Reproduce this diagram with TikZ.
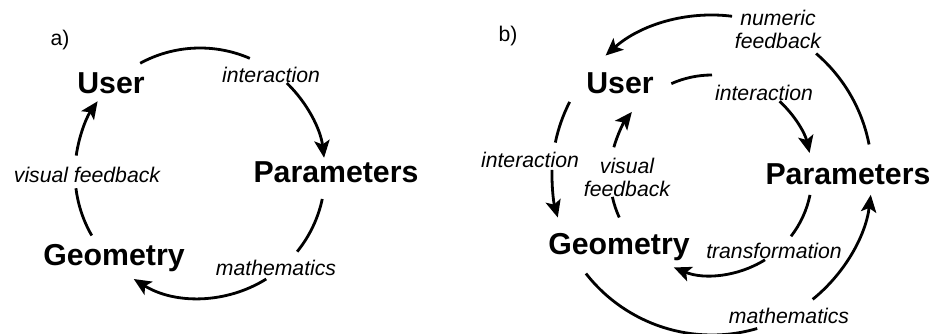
\documentclass[tikz,border=0pt]{standalone}
\usepackage{fontspec}
\setmainfont{Liberation Sans}
\usetikzlibrary{arrows.meta}

\begin{document}
\begin{tikzpicture}[x=0.75pt,y=0.75pt,
  state/.style={font=\fontsize{22.7}{27}\selectfont\bfseries,anchor=base,inner sep=0pt},
  lbl/.style={font=\fontsize{15.9}{17.25}\selectfont\itshape,anchor=base,inner sep=0pt},
  tag/.style={font=\fontsize{15.9}{18}\selectfont,inner sep=0pt},
  flow/.style={line width=2.1pt},
  arr/.style={flow,-{Stealth[length=13pt,width=11.5pt,inset=3pt]}}]
\useasboundingbox (0,0) rectangle (935,333);

% a)
\coordinate (ca) at (200,160);
\node[tag] (tagA) at (60,293) {a)};
\node[state] (userA) at (111,240) {User};
\node[state] (paramA) at (336,151) {Parameters};
\node[state] (geomA) at (114,68) {Geometry};
\node[lbl] (interA) at (271,251) {interaction};
\node[lbl] (visA) at (87,151) {visual feedback};
\node[lbl] (mathA) at (276,58) {mathematics};

\draw[flow] ([shift={(118.6:125)}]ca) arc[start angle=118.6,end angle=66.5,radius=125];
\draw[arr] ([shift={(46:125)}]ca) arc[start angle=46,end angle=7,radius=125];
\draw[flow] ([shift={(-12:125)}]ca) arc[start angle=-12,end angle=-39,radius=125];
\draw[arr] ([shift={(-58:125)}]ca) arc[start angle=-58,end angle=-122,radius=125];
\draw[flow] ([shift={(210:125)}]ca) arc[start angle=210,end angle=187,radius=125];
\draw[arr] ([shift={(172:125)}]ca) arc[start angle=172,end angle=145,radius=125];

% b)
\coordinate (cb) at (712,158);
\node[tag] (tagB) at (508,297) {b)};
\node[state] (userB) at (620,240) {User};
\node[state] (paramB) at (848,149) {Parameters};
\node[state] (geomB) at (619,79) {Geometry};
\node[lbl,anchor=center,align=center] (numB) at (778,304) {numeric\\feedback};
\node[lbl] (interB) at (764,233) {interaction};
\node[lbl] (interL) at (530,166) {interaction};
\node[lbl,anchor=center,align=center] (visB) at (627,156) {visual\\feedback};
\node[lbl] (transB) at (774,75) {transformation};
\node[lbl] (mathB) at (789,10) {mathematics};

% inner ring
\draw[flow] ([shift={(114:100)}]cb) arc[start angle=114,end angle=90,radius=100];
\draw[arr] ([shift={(47.5:100)}]cb) arc[start angle=47.5,end angle=12.7,radius=100];
\draw[flow] ([shift={(-11.5:100)}]cb) arc[start angle=-11.5,end angle=-37.8,radius=100];
\draw[arr] ([shift={(-58:100)}]cb) arc[start angle=-58,end angle=-112.4,radius=100];
\draw[flow] ([shift={(204.6:102)}]cb) arc[start angle=204.6,end angle=192.4,radius=102];
\draw[arr] ([shift={(164.2:102)}]cb) arc[start angle=164.2,end angle=141.8,radius=102];

% outer ring
\draw[flow] ([shift={(11:160)}]cb) arc[start angle=11,end angle=49.4,radius=160];
\draw[arr] ([shift={(82.8:160)}]cb) arc[start angle=82.8,end angle=131.7,radius=160];
\draw[flow] ([shift={(152.8:160)}]cb) arc[start angle=152.8,end angle=168.3,radius=160];
\draw[arr] ([shift={(178.2:160)}]cb) arc[start angle=178.2,end angle=195.4,radius=160];
\draw[flow] ([shift={(218:160)}]cb) arc[start angle=218,end angle=286.4,radius=160];
\draw[arr] ([shift={(-51:160)}]cb) arc[start angle=-51,end angle=-7.1,radius=160];
\end{tikzpicture}
\end{document}
